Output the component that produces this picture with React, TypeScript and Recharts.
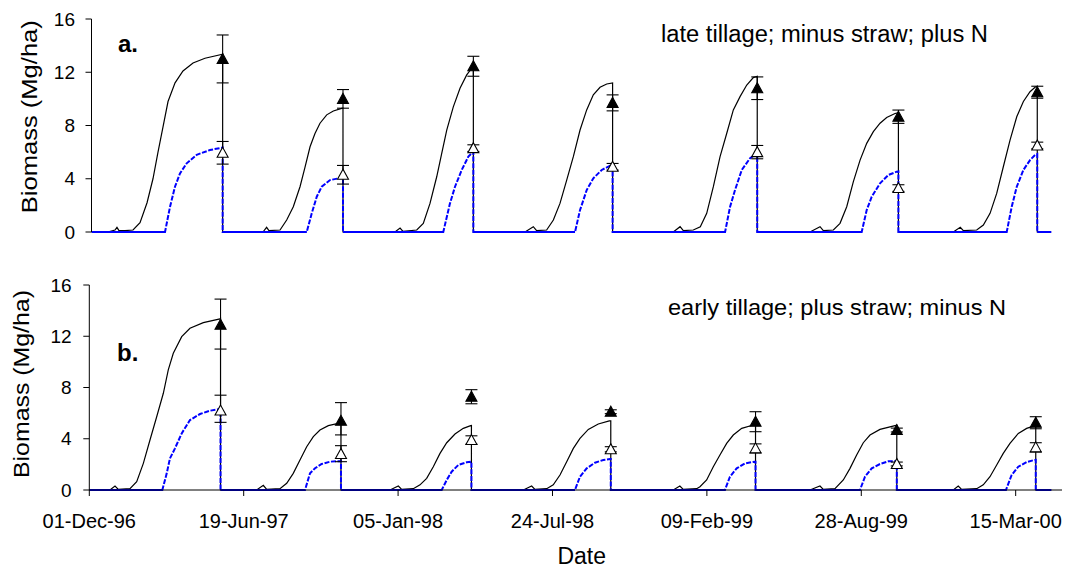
import React from 'react';
import { ComposedChart, Line, Scatter, XAxis, YAxis, ErrorBar } from 'recharts';

// x values are days since 01-Dec-96
const tickDays = [0, 200, 400, 600, 800, 1000, 1200];
const tickLabels = ['01-Dec-96', '19-Jun-97', '05-Jan-98', '24-Jul-98', '09-Feb-99', '28-Aug-99', '15-Mar-00'];
const yTicks = [0, 4, 8, 12, 16];
const harvestDays = [170, 326, 495, 675.5, 863, 1046, 1226];

// panel a: late tillage; minus straw; plus N
const topSimTotal: [number, number][] = [
  [0, 0], [21, 0], [30.5, 0.15], [33, 0.35], [35.6, 0.1], [43.4, 0.1], [53.8, 0.15], [62.9, 0.7], [72, 2.2], [79.7, 4.0], [86.2, 6.0], [92.7, 7.9], [99.2, 9.8], [108.3, 11.2], [118.6, 12.1], [131.6, 12.7], [147.1, 13.05], [170, 13.35], [170, 0],
  [222.3, 0], [227, 0.35], [230, 0.1], [244.4, 0.15], [253, 0.9], [261.6, 1.9], [270.3, 3.4], [276.8, 4.87], [283.3, 6.4], [289.7, 7.4], [296.2, 8.17], [304.9, 8.8], [313.5, 9.09], [324.3, 9.29], [326, 9.3], [326, 0],
  [393.4, 0], [400, 0.3], [403.8, 0.05], [421.6, 0.15], [430.1, 0.65], [438.8, 2.15], [447.5, 4.15], [454, 5.9], [460.5, 7.66], [469, 9.4], [477.7, 10.8], [486.4, 11.8], [492.9, 12.3], [495, 12.35], [495, 0],
  [562, 0], [572.7, 0.4], [577, 0.1], [590, 0.15], [598.7, 0.9], [607.3, 2.15], [616, 3.9], [624.6, 5.66], [633.3, 7.66], [641.9, 9.17], [650.5, 10.3], [659.2, 10.87], [667.9, 11.12], [675.5, 11.2], [675.5, 0],
  [754.2, 0], [763, 0.4], [767.2, 0.1], [780.1, 0.15], [789.2, 0.4], [797.5, 1.4], [806.1, 3.4], [814.8, 5.66], [823.4, 7.4], [832, 9.17], [840.7, 10.17], [849.4, 11.04], [857.9, 11.6], [863, 11.7], [863, 0],
  [931.4, 0], [944.4, 0.4], [948.7, 0.1], [961.7, 0.15], [970.3, 0.65], [979, 1.9], [987.6, 3.78], [996.3, 5.4], [1004.9, 6.66], [1013.5, 7.54], [1022.2, 8.17], [1030.8, 8.6], [1041.6, 8.9], [1046, 8.95], [1046, 0],
  [1117.2, 0], [1126.2, 0.35], [1130.2, 0.1], [1147.5, 0.15], [1156.1, 0.52], [1164.8, 1.4], [1173.4, 2.9], [1182, 4.9], [1190.7, 6.9], [1199.4, 8.66], [1208, 9.8], [1216.6, 10.54], [1223.1, 10.87], [1226, 10.95], [1226, 0], [1244, 0],
];
const topSimGrain: [number, number][] = [
  [0, 0], [95.3, 0], [101.8, 1.9], [108.2, 3.4], [114.7, 4.4], [123.4, 5.16], [136.4, 5.8], [153.6, 6.16], [168.8, 6.33], [170, 6.35], [170, 0],
  [279, 0], [285.5, 1.4], [292, 2.65], [298.4, 3.4], [309.2, 3.9], [324.3, 4.08], [326, 4.1], [326, 0],
  [456, 0], [464.7, 2.15], [471.2, 3.4], [479.9, 4.66], [488.5, 5.66], [495, 6.03], [495, 0],
  [626.8, 0], [633.3, 1.65], [641.9, 3.15], [650.5, 4.03], [661.4, 4.66], [672.2, 4.98], [675.5, 5.0], [675.5, 0],
  [821.3, 0], [827.8, 1.9], [834.2, 3.15], [842.9, 4.66], [853.7, 5.54], [861.4, 5.86], [863, 5.9], [863, 0],
  [998.4, 0], [1004.9, 1.65], [1011.4, 2.65], [1022.2, 3.66], [1032.9, 4.28], [1043.8, 4.53], [1046, 4.55], [1046, 0],
  [1186.4, 0], [1192.9, 1.9], [1199.4, 3.4], [1208, 4.66], [1216.6, 5.4], [1223.1, 5.78], [1226, 5.85], [1226, 0], [1244, 0],
];
const topObsTotal = [13.0, 10.0, 12.45, 9.7, 10.8, 8.66, 10.5];
const topObsTotalErr = [1.8, 0.7, 0.75, 0.6, 0.85, 0.5, 0.45];
const topObsGrain = [5.95, 4.3, 6.3, 4.9, 6.0, 3.3, 6.5];
const topObsGrainErr = [0.85, 0.7, 0.25, 0.25, 0.5, 0.25, 0.25];

// panel b: early tillage; plus straw; minus N
const botSimTotal: [number, number][] = [
  [0, 0], [26.8, 0], [33.3, 0.31], [37.6, 0.05], [52.7, 0.1], [61.4, 0.65], [70, 2.08], [78.6, 3.9], [87.3, 5.72], [95.9, 7.55], [102.3, 9.37], [108.8, 10.67], [119.7, 11.97], [130.4, 12.62], [147.7, 13.06], [169.3, 13.35], [170, 13.38], [170, 0],
  [216.8, 0], [225.4, 0.37], [229.8, 0.05], [247, 0.1], [255.7, 0.52], [264.2, 1.3], [272.9, 2.34], [281.6, 3.38], [290.2, 4.16], [298.8, 4.68], [309.6, 5.02], [322.5, 5.2], [326, 5.22], [326, 0],
  [389.5, 0], [400.3, 0.31], [404.7, 0.05], [419.7, 0.1], [428.4, 0.4], [437, 0.91], [445.6, 1.82], [454.3, 2.86], [463, 3.69], [473.7, 4.37], [484.5, 4.81], [494, 5.02], [495, 5.03], [495, 0],
  [562.2, 0], [573, 0.31], [577.3, 0.05], [592.5, 0.1], [601, 0.4], [609.7, 1.17], [618.4, 2.21], [627, 3.25], [635.6, 4.03], [646.4, 4.73], [659.3, 5.15], [673.6, 5.39], [675.5, 5.4], [675.5, 0],
  [756.5, 0], [765, 0.31], [769.4, 0.05], [786.8, 0.1], [791, 0.26], [799.7, 0.78], [808.3, 1.82], [816.9, 2.73], [825.6, 3.64], [834.2, 4.29], [845.1, 4.81], [860.1, 5.07], [863, 5.1], [863, 0],
  [933.5, 0], [946.5, 0.31], [950.8, 0.05], [965.9, 0.1], [976.7, 0.78], [985.4, 1.69], [994, 2.73], [1002.6, 3.69], [1011.3, 4.29], [1024.2, 4.73], [1043.7, 5.02], [1046, 5.05], [1046, 0],
  [1119.2, 0], [1125.6, 0.31], [1130, 0.05], [1149.5, 0.1], [1158, 0.4], [1166.7, 1.04], [1175.4, 1.95], [1183.9, 2.86], [1192.6, 3.64], [1203.4, 4.42], [1214.2, 4.81], [1224.1, 5.0], [1226, 5.02], [1226, 0], [1246, 0],
];
const botSimGrain: [number, number][] = [
  [0, 0], [94.6, 0], [100.3, 1.3], [104.5, 2.47], [111, 3.25], [119.7, 4.42], [130.4, 5.46], [143.4, 5.93], [156.4, 6.19], [169.3, 6.32], [170, 6.33], [170, 0],
  [279.4, 0], [285.9, 1.3], [292.4, 1.7], [301, 2.03], [311.8, 2.21], [324.7, 2.26], [326, 2.27], [326, 0],
  [456.5, 0], [463, 0.78], [469.4, 1.43], [478, 1.95], [488.9, 2.16], [495, 2.21], [495, 0],
  [629.1, 0], [635.6, 1.04], [644.3, 1.69], [655, 2.13], [665.8, 2.34], [674.5, 2.42], [675.5, 2.42], [675.5, 0],
  [823.4, 0], [829.9, 1.04], [838.6, 1.69], [849.4, 2.08], [862.3, 2.21], [863, 2.21], [863, 0],
  [998.3, 0], [1004.8, 1.04], [1013.5, 1.69], [1024.2, 2.03], [1035, 2.24], [1045.8, 2.26], [1046, 2.26], [1046, 0],
  [1187.4, 0], [1194.8, 1.17], [1203.4, 1.82], [1214.2, 2.18], [1224.1, 2.34], [1226, 2.35], [1226, 0], [1246, 0],
];
const botObsTotal = [12.9, 5.4, 7.28, 6.11, 5.33, 4.68, 5.25];
const botObsTotalErr: [number, number][] = [[1.9, 2.0], [1.1, 1.42], [0.55, 0.55], [0.15, 0.15], [0.78, 0.78], [0.15, 0.15], [0.47, 0.47]];
const botObsGrain = [6.2, 2.81, 3.9, 3.18, 3.25, 2.03, 3.33];
const botObsGrainErr: [number, number][] = [[0.92, 1.2], [0.6, 0.65], [0.33, 0.33], [0.2, 0.2], [0.35, 0.35], [0.15, 0.15], [0.36, 0.36]];

const FONT = '"Liberation Sans", Arial, sans-serif';
const DOMAIN: [number, number] = [0, 1260];

const toPts = (arr: [number, number][]) => arr.map(([d, v]) => ({ d, v }));
const zeroOnly = (arr: [number, number][]) => arr.map(([d, v]) => ({ d, v: v === 0 ? 0 : null }));
const obsPts = (vals: number[], errs: any[]) => vals.map((v, i) => ({ d: harvestDays[i], v, e: errs[i] }));

const Tri = (filled: boolean) => (p: any) => {
  const { cx, cy } = p;
  if (cx == null || cy == null) return <g />;
  const pts = `${cx},${cy - 5.5} ${cx - 5.5},${cy + 4.5} ${cx + 5.5},${cy + 4.5}`;
  return <polygon points={pts} fill={filled ? '#000' : '#fff'} stroke="#000" strokeWidth={1.1} />;
};

const XTick = (props: any) => {
  const { x, y, payload } = props;
  const i = tickDays.indexOf(payload.value);
  return (
    <text x={x} y={y} dy="0.71em" textAnchor="middle" fontSize={20} fill="#000" fontFamily={FONT}>
      {tickLabels[i]}
    </text>
  );
};

type PanelProps = {
  total: [number, number][];
  grain: [number, number][];
  obsT: number[];
  obsTErr: any[];
  obsG: number[];
  obsGErr: any[];
  bottom: boolean;
  top: number;
  height: number;
  margin: { top: number; right: number; bottom: number; left: number };
  yWidth: number;
  yTickMargin: number;
};

function Panel(p: PanelProps) {
  return (
    <div style={{ position: 'absolute', left: 0, top: p.top, width: 1067, height: p.height }}>
      <ComposedChart width={1067} height={p.height} margin={p.margin}>
        <XAxis
          type="number"
          dataKey="d"
          domain={DOMAIN}
          ticks={tickDays}
          allowDataOverflow
          height={p.bottom ? 78 : 0}
          axisLine={{ stroke: '#000', strokeWidth: 1 }}
          tickLine={p.bottom ? { stroke: '#000', strokeWidth: 1 } : false}
          tickSize={6}
          tickMargin={18}
          tick={p.bottom ? <XTick /> : false}
          interval={0}
        />
        <YAxis
          type="number"
          domain={[0, 16]}
          ticks={yTicks}
          width={p.yWidth}
          axisLine={{ stroke: '#000', strokeWidth: 1 }}
          tickLine={{ stroke: '#000', strokeWidth: 1 }}
          tickSize={6}
          tickMargin={p.yTickMargin}
          tick={{ fontSize: 19, fill: '#000', fontFamily: FONT }}
          interval={0}
        />
        <Line data={toPts(p.total)} dataKey="v" type="linear" stroke="#000" strokeWidth={1.2} dot={false} isAnimationActive={false} />
        <Line data={toPts(p.grain)} dataKey="v" type="linear" stroke="#0000ff" strokeWidth={2} strokeDasharray="5 1.6" dot={false} isAnimationActive={false} />
        <Line data={zeroOnly(p.grain)} dataKey="v" type="linear" stroke="#0000ff" strokeWidth={2.2} dot={false} connectNulls={false} isAnimationActive={false} />
        <Scatter data={obsPts(p.obsT, p.obsTErr)} dataKey="v" shape={Tri(true)} isAnimationActive={false}>
          <ErrorBar dataKey="e" direction="y" width={6} stroke="#000" strokeWidth={1.1} />
        </Scatter>
        <Scatter data={obsPts(p.obsG, p.obsGErr)} dataKey="v" shape={Tri(false)} isAnimationActive={false}>
          <ErrorBar dataKey="e" direction="y" width={6} stroke="#000" strokeWidth={1.1} />
        </Scatter>
      </ComposedChart>
    </div>
  );
}

export default function App() {
  return (
    <div style={{ position: 'absolute', left: 0, top: 0, width: 1067, height: 568, background: '#fff', fontFamily: FONT }}>
      <Panel
        total={topSimTotal}
        grain={topSimGrain}
        obsT={topObsTotal}
        obsTErr={topObsTotalErr}
        obsG={topObsGrain}
        obsGErr={topObsGrainErr}
        bottom={false}
        top={0}
        height={260}
        margin={{ top: 19, right: 3.5, bottom: 28, left: 0 }}
        yWidth={91.5}
        yTickMargin={10.5}
      />
      <Panel
        total={botSimTotal}
        grain={botSimGrain}
        obsT={botObsTotal}
        obsTErr={botObsTotalErr}
        obsG={botObsGrain}
        obsGErr={botObsGrainErr}
        bottom={true}
        top={260}
        height={308}
        margin={{ top: 25, right: 5, bottom: 0, left: 0 }}
        yWidth={89.3}
        yTickMargin={11.6}
      />
      <svg width={1067} height={568} style={{ position: 'absolute', left: 0, top: 0, pointerEvents: 'none' }}>
        <text x={118} y={52} fontSize={24} fontWeight="bold" fontFamily={FONT} fill="#000">a.</text>
        <text x={117} y={361} fontSize={24} fontWeight="bold" fontFamily={FONT} fill="#000">b.</text>
        <text x={661} y={42} fontSize={23} fontFamily={FONT} fill="#000" textLength={327} lengthAdjust="spacingAndGlyphs">late tillage; minus straw; plus N</text>
        <text x={668} y={315} fontSize={22.5} fontFamily={FONT} fill="#000" textLength={338} lengthAdjust="spacingAndGlyphs">early tillage; plus straw; minus N</text>
        <text x={581.7} y={564} fontSize={23} fontFamily={FONT} fill="#000" textAnchor="middle">Date</text>
        <text transform="translate(36.5,116.7) rotate(-90)" fontSize={22} fontFamily={FONT} fill="#000" textAnchor="middle" textLength={193} lengthAdjust="spacingAndGlyphs">Biomass (Mg/ha)</text>
        <text transform="translate(28.5,384) rotate(-90)" fontSize={22} fontFamily={FONT} fill="#000" textAnchor="middle" textLength={188} lengthAdjust="spacingAndGlyphs">Biomass (Mg/ha)</text>
      </svg>
    </div>
  );
}
